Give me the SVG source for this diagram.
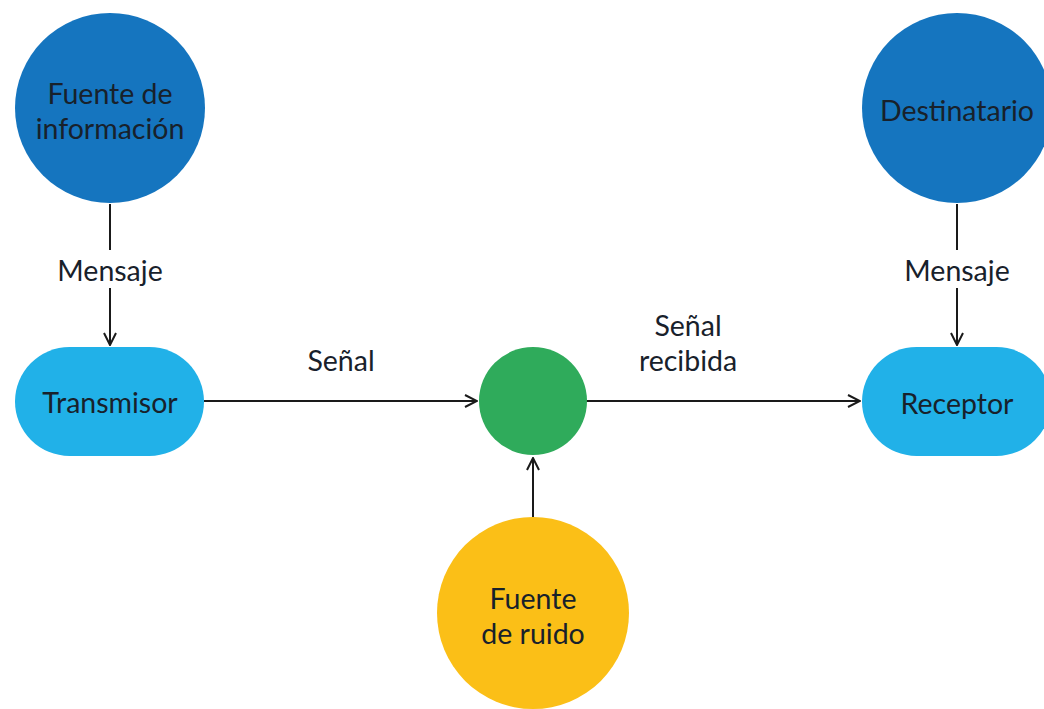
<svg xmlns="http://www.w3.org/2000/svg" width="1044" height="709" viewBox="0 0 1044 709">
<defs>
<marker id="arr" viewBox="0 0 14 14" refX="13" refY="7" markerWidth="14" markerHeight="14" markerUnits="userSpaceOnUse" orient="auto">
<path d="M1,1 L13,7 L1,13" fill="none" stroke="#1a1a1a" stroke-width="2"/>
</marker>
</defs>
<style>
text{font-family:Lato,"Open Sans","Liberation Sans",sans-serif;font-size:28.5px;fill:#18212b;text-anchor:middle;dominant-baseline:central}
.c{stroke:#1a1a1a;stroke-width:2;fill:none}
.dark{fill:#1575bf}
.light{fill:#21b1e8}
.green{fill:#2fab5b}
.yellow{fill:#fbbf17}
</style>
<rect width="1044" height="709" fill="#ffffff"/>
<g id="connectors">
<line class="c" x1="110" y1="204" x2="110" y2="250"/>
<line class="c" x1="110" y1="288" x2="110" y2="345" marker-end="url(#arr)"/>
<line class="c" x1="957" y1="204" x2="957" y2="250"/>
<line class="c" x1="957" y1="288" x2="957" y2="345" marker-end="url(#arr)"/>
<line class="c" x1="204" y1="401" x2="477" y2="401" marker-end="url(#arr)"/>
<line class="c" x1="586" y1="401" x2="860" y2="401" marker-end="url(#arr)"/>
<line class="c" x1="533" y1="517" x2="533" y2="458" marker-end="url(#arr)"/>
<text x="110" y="270">Mensaje</text>
<text x="957" y="270">Mensaje</text>
<text x="341" y="360">Señal</text>
<text x="688" y="325">Señal</text>
<text x="688" y="360">recibida</text>
</g>
<g id="fuente-informacion">
<circle class="dark" cx="110" cy="108" r="95"/>
<text x="110" y="93">Fuente de</text>
<text x="110" y="128">información</text>
</g>
<g id="transmisor">
<rect class="light" x="15" y="347" width="189" height="109" rx="54.5"/>
<text x="110" y="402">Transmisor</text>
</g>
<g id="canal">
<circle class="green" cx="533" cy="401" r="54"/>
</g>
<g id="fuente-ruido">
<circle class="yellow" cx="533" cy="613" r="96"/>
<text x="533" y="598">Fuente</text>
<text x="533" y="633">de ruido</text>
</g>
<g id="receptor">
<rect class="light" x="862" y="347" width="189" height="109" rx="54.5"/>
<text x="957" y="403">Receptor</text>
</g>
<g id="destinatario">
<circle class="dark" cx="957" cy="108" r="95"/>
<text x="957" y="110">Destinatario</text>
</g>
</svg>
